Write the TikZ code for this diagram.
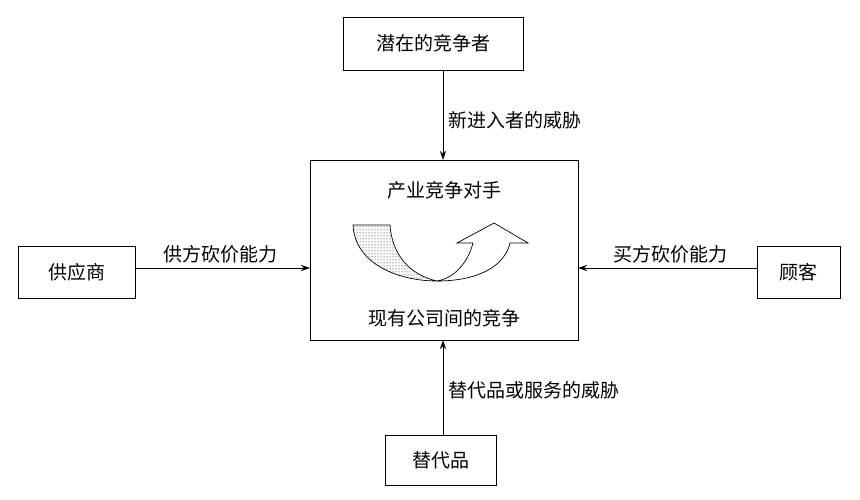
\documentclass[tikz,border=0pt]{standalone}
\usepackage{fontspec}
\setmainfont{Noto Sans CJK SC}
\usetikzlibrary{arrows.meta,patterns}
\begin{document}
\begin{tikzpicture}[x=1pt,y=-1pt,
  box/.style={draw,line width=0.8pt,fill=white},
  lab/.style={font=\fontsize{19}{21}\selectfont},
  arr/.style={-{Stealth[length=9pt,width=6pt]},line width=0.8pt}]
\useasboundingbox (0,0) rectangle (860,500);
\node[box,minimum width=180pt,minimum height=53pt,lab] (top) at (433,43.5) {潜在的竞争者};
\node[box,minimum width=268pt,minimum height=180pt] (main) at (444,250) {};
\node[box,minimum width=117pt,minimum height=52pt,lab] (left) at (76.5,272) {供应商};
\node[box,minimum width=83pt,minimum height=52pt,lab] (right) at (798.5,272) {顾客};
\node[box,minimum width=111pt,minimum height=50pt,lab] (bot) at (440.5,460) {替代品};
\node[lab] (t1) at (444,190) {产业竞争对手};
\node[lab] (t2) at (444,318) {现有公司间的竞争};
\coordinate (ta) at (443,70); \coordinate (tb) at (443,160);
\draw[arr] (ta) -- (tb);
\node[lab,anchor=west] (l1) at (445,120) {新进入者的威胁};
\coordinate (ba) at (443,435); \coordinate (bb) at (443,340);
\draw[arr] (ba) -- (bb);
\node[lab,anchor=west] (l2) at (445,390) {替代品或服务的威胁};
\draw[arr] (left.east |- 0,268) -- (310,268);
\node[lab] (l3) at (220,254) {供方砍价能力};
\draw[arr] (right.west |- 0,268) -- (578,268);
\node[lab] (l4) at (670,254) {买方砍价能力};
\draw[line width=0.7pt,pattern=dots] (353,225) .. controls (355,265) and (400,281) .. (437,281) .. controls (410,275) and (392,255) .. (390,225) -- cycle;
\draw[line width=0.7pt,fill=white] (437,281) .. controls (480,281) and (505,265) .. (510,243) -- (528,243) -- (494,223) -- (457,243) -- (473,243) .. controls (468,262) and (455,278) .. (437,281);
\end{tikzpicture}
\end{document}
